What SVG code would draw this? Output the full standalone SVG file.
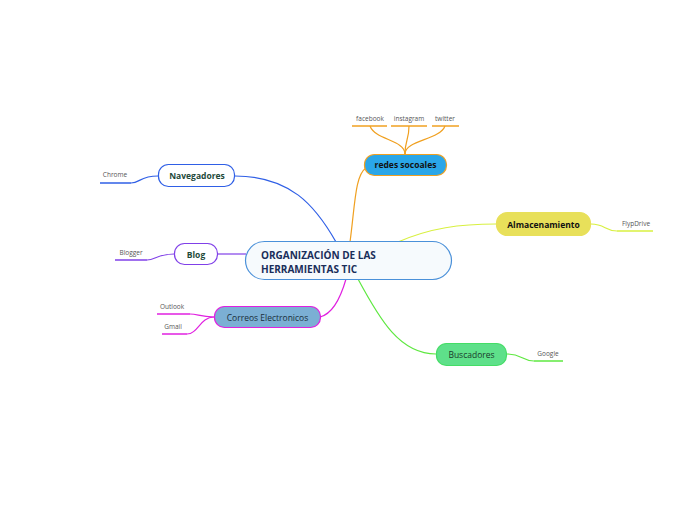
<svg xmlns="http://www.w3.org/2000/svg" width="696" height="520" viewBox="0 0 696 520">
<style>
text{font-family:"Open Sans","Noto Sans","Liberation Sans",sans-serif}
.sub{font-size:6.5px;fill:#555}
.lbl{font-size:8.5px;font-weight:bold;fill:#1e4a3a;text-anchor:middle}
.c{fill:none;stroke-width:1.2}
</style>
<rect width="696" height="520" fill="#ffffff"/>
<g id="connectors">
<path class="c" stroke="#2f5fe6" d="M235,176 C290,176 315,205 336,242"/>
<path class="c" stroke="#f0a020" d="M350,242 C355,205 355,175 366,168"/>
<path class="c" stroke="#d8f040" d="M398,242 C430,228 460,224 496,224"/>
<path class="c" stroke="#5ee840" d="M358,279 C380,320 400,354 436,354"/>
<path class="c" stroke="#8040e8" d="M218,254 L246,254"/>
<path class="c" stroke="#e020e0" d="M320,317 C332,314 340,300 346,279"/>
<path class="c" stroke="#2f5fe6" stroke-width="0.8" d="M158,176 C140,176 140,183 131,183"/>
<path class="c" stroke="#8040e8" stroke-width="0.8" d="M174,254 C158,254 155,260 147,260"/>
<path class="c" stroke="#e020e0" stroke-width="0.8" d="M214,317 C200,317 198,314 190,314"/>
<path class="c" stroke="#e020e0" stroke-width="0.8" d="M214,317 C200,317 198,334 187,334"/>
<path class="c" stroke="#d8f040" stroke-width="0.8" d="M591,224 C605,224 605,231 617,231"/>
<path class="c" stroke="#5ee840" stroke-width="0.8" d="M507,354 C522,354 522,361 534,361"/>
<path class="c" stroke="#f0a020" stroke-width="0.8" d="M405,154 C405,140 375,140 370,126"/>
<path class="c" stroke="#f0a020" stroke-width="0.8" d="M405,154 C405,140 409,140 409,126"/>
<path class="c" stroke="#f0a020" stroke-width="0.8" d="M405,154 C405,140 440,140 445,126"/>
</g>
<g id="central">
<rect x="245.5" y="241.5" width="206" height="38" rx="19" fill="#f6fafd" stroke="#4a90d9" stroke-width="1.2"/>
<text x="261" y="259" font-size="10" font-weight="bold" fill="#1a2e5a">ORGANIZACIÓN DE LAS</text>
<text x="261" y="272.5" font-size="10" font-weight="bold" fill="#1a2e5a">HERRAMIENTAS TIC</text>
</g>
<g id="redes">
<rect x="364.5" y="154.5" width="82" height="21" rx="10" fill="#2aa6e8" stroke="#f0a020" stroke-width="1.2"/>
<text x="405.5" y="168" class="lbl" style="fill:#111">redes socoales</text>
</g>
<g id="facebook"><line x1="352" y1="126" x2="387" y2="126" stroke="#f0a020" stroke-width="1.5"/><text x="370" y="121" class="sub" text-anchor="middle">facebook</text></g>
<g id="instagram"><line x1="391" y1="126" x2="427" y2="126" stroke="#f0a020" stroke-width="1.5"/><text x="409" y="121" class="sub" text-anchor="middle">instagram</text></g>
<g id="twitter"><line x1="432" y1="126" x2="459" y2="126" stroke="#f0a020" stroke-width="1.5"/><text x="445" y="121" class="sub" text-anchor="middle">twitter</text></g>
<g id="navegadores">
<rect x="158.5" y="164.5" width="76" height="22" rx="10" fill="#ffffff" stroke="#2f5fe6" stroke-width="1.2"/>
<text x="197" y="179" class="lbl">Navegadores</text>
</g>
<g id="chrome"><line x1="100" y1="183" x2="131" y2="183" stroke="#2f5fe6" stroke-width="1.5"/><text x="115" y="177" class="sub" text-anchor="middle">Chrome</text></g>
<g id="blog">
<rect x="174.5" y="243.5" width="43" height="21" rx="10" fill="#ffffff" stroke="#8040e8" stroke-width="1.2"/>
<text x="196" y="257.5" class="lbl">Blog</text>
</g>
<g id="blogger"><line x1="115" y1="260" x2="147" y2="260" stroke="#8040e8" stroke-width="1.5"/><text x="131" y="255" class="sub" text-anchor="middle">Blogger</text></g>
<g id="correos">
<rect x="214.5" y="306.5" width="106" height="21" rx="10" fill="#7bafd4" stroke="#e020e0" stroke-width="1.2"/>
<text x="267.5" y="320.5" class="lbl" style="font-weight:normal;fill:#1a2e3a">Correos Electronicos</text>
</g>
<g id="outlook"><line x1="157" y1="314" x2="190" y2="314" stroke="#e020e0" stroke-width="1.5"/><text x="172" y="309" class="sub" text-anchor="middle">Outlook</text></g>
<g id="gmail"><line x1="162" y1="334" x2="187" y2="334" stroke="#e020e0" stroke-width="1.5"/><text x="173" y="329" class="sub" text-anchor="middle">Gmail</text></g>
<g id="almacenamiento">
<rect x="496.5" y="212.5" width="94" height="23" rx="11" fill="#e8e05a" stroke="#e8e05a" stroke-width="1.2"/>
<text x="543.5" y="227.5" class="lbl" style="fill:#111">Almacenamiento</text>
</g>
<g id="flypdrive"><line x1="617" y1="231" x2="653" y2="231" stroke="#d8f040" stroke-width="1.5"/><text x="636" y="226" class="sub" text-anchor="middle">FlypDrive</text></g>
<g id="buscadores">
<rect x="436.5" y="343.5" width="70" height="22" rx="10" fill="#5ee08a" stroke="#44dd66" stroke-width="1.2"/>
<text x="471.5" y="358" class="lbl" style="font-weight:normal;fill:#1a3a2a">Buscadores</text>
</g>
<g id="google"><line x1="534" y1="361" x2="563" y2="361" stroke="#5ee840" stroke-width="1.5"/><text x="548" y="356" class="sub" text-anchor="middle">Google</text></g>
</svg>
